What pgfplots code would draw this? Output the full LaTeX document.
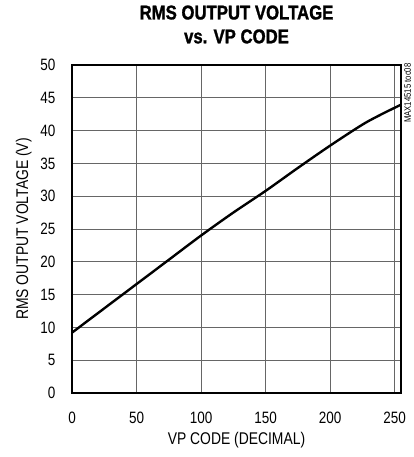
\documentclass[border=0pt]{standalone}
\usepackage{fontspec}
\setmainfont{Liberation Sans}[FakeStretch=0.82]
\newfontfamily\titlefont{Liberation Sans}[FakeStretch=0.84, FakeBold=1.3]
\usepackage{pgfplots}
\pgfplotsset{compat=1.18}
\begin{document}
\begin{tikzpicture}
\path[use as bounding box] (-72bp,-64bp) rectangle (342bp,393bp);
\begin{axis}[
	at={(0,0)}, anchor=south west,
	scale only axis,
	width=329bp, height=328bp,
	xmin=0, xmax=255, ymin=0, ymax=50,
	xtick={0,50,...,250}, ytick={0,5,...,50},
	grid=major,
	major grid style={gray!80!black, line width=0.8pt},
	axis line style={line width=2.2pt},
	tick style={draw=none},
	tick label style={font=\fontsize{16.5}{18}\selectfont},
	label style={font=\fontsize{17}{19}\selectfont},
	/pgf/number format/assume math mode=true,
	xticklabel style={yshift=-15.5bp},
	yticklabel style={xshift=-13bp},
	xlabel={VP CODE (DECIMAL)},
	ylabel={RMS OUTPUT VOLTAGE (V)},
	xlabel style={yshift=-2bp},
	ylabel style={yshift=2bp},
	title={RMS OUTPUT VOLTAGE\\vs. VP CODE},
	title style={align=center, font=\titlefont\bfseries\fontsize{20}{24}\selectfont, yshift=12bp},
]
\addplot[black, line width=2.4pt, smooth] coordinates {
	(0,9.2) (25,12.9) (50,16.6) (75,20.3) (100,24.0) (125,27.5)
	(150,30.8) (175,34.3) (200,37.7) (225,40.9) (240,42.5) (255,43.95)
};
\end{axis}
\node[rotate=90, anchor=north east, font=\fontsize{9.5}{10}\selectfont, inner sep=0pt]
	at (current axis.north east) [xshift=1.8bp, yshift=-3bp] {MAX14515 toc08};
\end{tikzpicture}
\end{document}
